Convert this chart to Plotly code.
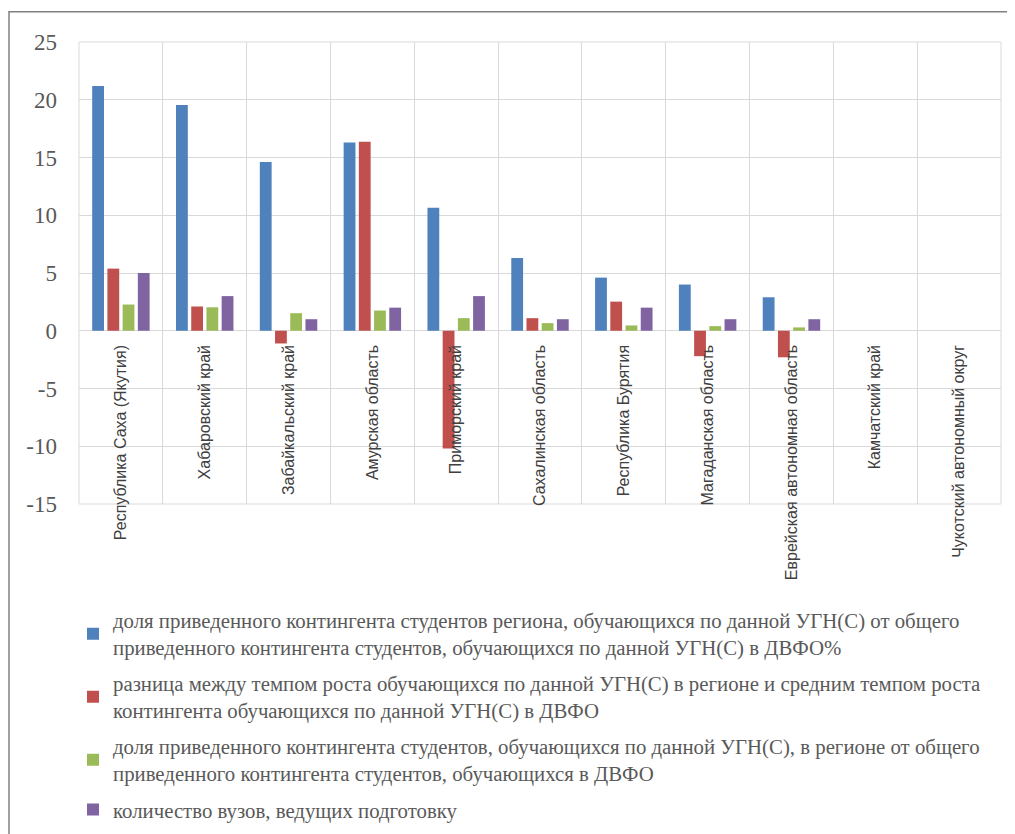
import plotly.graph_objects as go

regions = ["Республика Саха (Якутия)", "Хабаровский край", "Забайкальский край",
           "Амурская область", "Приморский край", "Сахалинская область",
           "Республика Бурятия", "Магаданская область", "Еврейская автономная область",
           "Камчатский край", "Чукотский автономный округ"]

share_region = [21.2, 19.55, 14.6, 16.3, 10.65, 6.3, 4.6, 4.0, 2.9, 0, 0]
growth_diff = [5.38, 2.1, -1.1, 16.37, -10.2, 1.09, 2.52, -2.2, -2.3, 0, 0]
share_total = [2.27, 2.03, 1.52, 1.75, 1.09, 0.66, 0.46, 0.4, 0.29, 0, 0]
universities = [5, 3, 1, 2, 3, 1, 2, 1, 1, 0, 0]

series_names = [
    "доля приведенного контингента студентов региона, обучающихся по данной УГН(С) от общего<br>приведенного контингента студентов, обучающихся по данной УГН(С) в ДВФО%",
    "разница между темпом роста обучающихся по данной УГН(С) в регионе и средним темпом роста<br>контингента обучающихся по данной УГН(С) в ДВФО",
    "доля приведенного контингента студентов, обучающихся по данной УГН(С), в регионе от общего<br>приведенного контингента студентов, обучающихся в ДВФО",
    "количество вузов, ведущих подготовку",
]
series_values = [share_region, growth_diff, share_total, universities]
colors = ["#4F81BD", "#C0504D", "#9BBB59", "#8064A2"]

y_ticks = [25, 20, 15, 10, 5, 0, -5, -10, -15]
y_ticktext = [str(v) for v in y_ticks]

fig = go.Figure()
for i, (name, vals, col) in enumerate(zip(series_names, series_values, colors)):
    fig.add_trace(go.Bar(x=regions, y=vals, name=name, marker_color=col,
                         marker_line_width=0, legendgroup=f"g{i}"))

W, H = 1015, 834
OFF = 8  # page body margin
ml, mr, mt, mb = 79 - OFF, 22, 42 - OFF, 334
pw, ph = W - ml - mr, H - mt - mb

def px_x(px):
    return (px - OFF - ml) / pw

def px_y(py):
    return (H - mb - (py - OFF)) / ph

serif = "Liberation Serif"
grid = "#D9D9D9"
fig.update_layout(
    width=W, height=H,
    margin=dict(l=ml, r=mr, t=mt, b=mb),
    paper_bgcolor="white", plot_bgcolor="white",
    barmode="group", bargap=0.274, bargroupgap=0.224,
    showlegend=True,
    legend=dict(x=px_x(73), y=px_y(605), xanchor="left", yanchor="top",
                orientation="v", traceorder="grouped", tracegroupgap=6,
                font=dict(family=serif, size=20.8, color="#595959"),
                bgcolor="rgba(0,0,0,0)"),
    xaxis=dict(type="category", anchor="free", position=15 / 40,
               tickson="boundaries", showgrid=True, gridcolor=grid, gridwidth=1,
               showline=False, ticks="", tickangle=-90, ticklabelstandoff=10,
               tickfont=dict(family="Liberation Sans", size=16, color="#404040")),
    yaxis=dict(range=[-15, 25], tickvals=y_ticks, ticktext=y_ticktext,
               showgrid=True, gridcolor=grid, gridwidth=1,
               zeroline=True, zerolinecolor=grid, zerolinewidth=1,
               showline=False, ticks="", ticklabelstandoff=21,
               tickfont=dict(family=serif, size=23, color="#595959")),
    shapes=[
        dict(type="rect", xref="paper", yref="paper", x0=0, x1=1, y0=0, y1=1,
             line=dict(color=grid, width=1), layer="below"),
        dict(type="rect", xref="paper", yref="paper",
             x0=px_x(9), x1=px_x(1040), y0=px_y(860), y1=px_y(11.5),
             line=dict(color="#808080", width=1.5), layer="below"),
    ],
)

fig.write_html("out.html")
